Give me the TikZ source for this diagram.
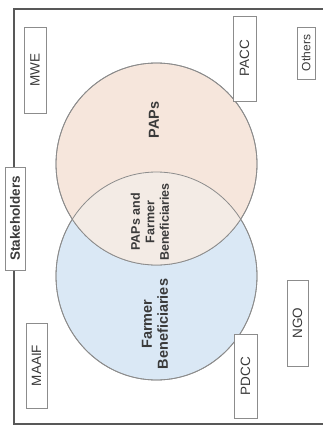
\documentclass[tikz,border=0pt]{standalone}
\usepackage{fontspec}
\setmainfont{Liberation Sans}
\definecolor{peach}{HTML}{F6E6DC}
\definecolor{skyb}{HTML}{DAE8F5}
\definecolor{lens}{HTML}{F3EBE5}
\definecolor{ink}{HTML}{3A3A3A}
\definecolor{edge}{HTML}{8C8C8C}
\begin{document}
\begin{tikzpicture}[x=1pt,y=-1pt,
  orgbox/.style={draw=edge, line width=0.9pt, fill=white, rotate=90, inner sep=0pt,
    text=ink, font=\fontsize{13.5}{14}\selectfont},
  circlabel/.style={rotate=90, align=center, text=ink, font=\bfseries\fontsize{14.5}{16}\selectfont},
  frameline/.style={draw=ink!85, line width=1.8pt}]
\useasboundingbox (0,0) rectangle (323,426);
\fill[white] (0,0) rectangle (323,426);
% frame
\draw[frameline] (330,9) -- (14,9) -- (14,424) -- (330,424);
% circles
\path[fill=skyb, draw=edge, line width=0.8pt] (156.5,276) ellipse [x radius=100.5, y radius=104];
\path[fill=peach, draw=edge, line width=0.8pt] (156.5,164) ellipse [x radius=100.5, y radius=101];
\begin{scope}
  \clip (156.5,276) ellipse [x radius=100.5, y radius=104];
  \path[fill=lens] (156.5,164) ellipse [x radius=100.5, y radius=101];
\end{scope}
\draw[edge, line width=0.8pt] (156.5,276) ellipse [x radius=100.5, y radius=104];
\draw[edge, line width=0.8pt] (156.5,164) ellipse [x radius=100.5, y radius=101];
% labels in circles
\node[circlabel] (paps) at (154,120) {PAPs};
\node[circlabel] (farm) at (155,324) {Farmer\\Beneficiaries};
\node[circlabel, font=\bfseries\fontsize{12.5}{14.5}\selectfont] (both) at (150,222) {PAPs and\\Farmer\\Beneficiaries};
% stakeholder boxes
\node[orgbox, font=\bfseries\fontsize{13.5}{14}\selectfont, minimum width=103, minimum height=20] (stake) at (15,218.5) {Stakeholders};
\node[orgbox, minimum width=86, minimum height=22] (mwe) at (35,70) {MWE};
\node[orgbox, minimum width=85, minimum height=21] (maaif) at (36.5,365.5) {MAAIF};
\node[orgbox, minimum width=85, minimum height=23] (pacc) at (244.5,58.5) {PACC};
\node[orgbox, minimum width=52, minimum height=18, font=\fontsize{12}{13}\selectfont] (others) at (306,53) {Others};
\node[orgbox, minimum width=84, minimum height=23] (pdcc) at (245.5,376) {PDCC};
\node[orgbox, minimum width=86, minimum height=21] (ngo) at (297.5,323) {NGO};
\end{tikzpicture}
\end{document}
